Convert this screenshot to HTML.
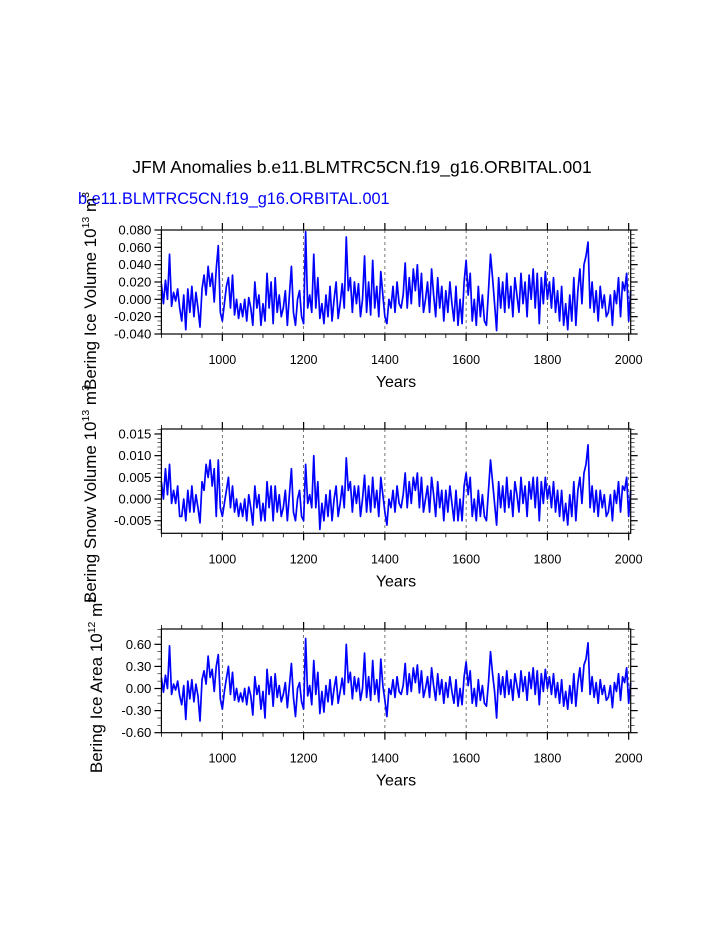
<!DOCTYPE html>
<html><head><meta charset="utf-8"><style>
html,body{margin:0;padding:0;background:#fff;}
svg{display:block;font-family:"Liberation Sans",sans-serif;}
</style></head><body>
<svg id="chart" width="723" height="935" viewBox="0 0 723 935" xmlns="http://www.w3.org/2000/svg">
<text x="362" y="173" font-size="17.5" text-anchor="middle" fill="#000">JFM Anomalies b.e11.BLMTRC5CN.f19_g16.ORBITAL.001</text>
<text x="78" y="204" font-size="16.3" fill="#0000ff">b.e11.BLMTRC5CN.f19_g16.ORBITAL.001</text>
<g id="panels"></g>
</svg>
<script>
const years = [];
for (let y = 850; y <= 2005; y += 5) years.push(y);
const xTicks = [1000, 1200, 1400, 1600, 1800, 2000];
const iceVolume = [18,-5,22,0,52,-8,8,-2,12,-10, -25,5,-35,12,-15,15,-20,8,-10,-32, 12,28,5,38,15,30,-3,35,62,-15, -25,-5,15,25,-10,28,-18,0,-22,-5, -20,0,-25,2,-10,-30,20,-10,5,-30, -5,-25,30,-10,20,-28,25,-15,5,-20, -10,10,-30,5,38,-15,-30,0,10,-20, -28,78,-10,5,-15,52,-10,25,-22,-5, -28,5,-20,15,-25,0,20,-22,-5,18, -10,72,10,25,-15,20,-5,18,-20,0, 50,-15,20,-18,45,-10,15,-20,32,5, -20,-28,0,-10,15,-15,20,-5,-10,5, 42,-10,25,-5,35,10,40,-8,30,-15, 0,20,-15,35,5,-20,25,-10,15,-25, 10,-15,20,-5,-25,15,-30,0,-28,20, 45,5,30,-25,0,-30,15,-20,5,-25, -30,10,52,25,-5,-36,25,-10,20,-15, 30,-10,15,-20,25,5,-15,30,-5,20, -20,28,0,35,-10,30,-28,25,-5,32, 0,20,-10,25,-15,10,-25,15,-30,-5, -35,5,-25,25,-30,10,35,-5,40,50, 66,-10,20,-15,10,-25,15,-10,5,-20, -15,5,-30,10,-5,25,-20,20,10,30, -25,10].map(v => v / 1000);
const snowVolume = [4,0,7,1,8,-1,2,-1,3,-4, -4,0,-5,2,-3,3,-3,1,-2,-5.5, 4,2,8,5,9,3,7,-4,9,-2, -4,-1,2,5,-2,3,-3,0,-4,-1, -4,0,-5,1,-2,-6,3,-2,1,-5, -1,-5,4,-2,3,-5,3,-3,1,-4, -2,2,-5,1,7,-3,-5,0,2,-4, -5,8,-1,1,-2,10,-2,4,-7,-1, -5,1,-4,2,-5,0,3,-4,-1,3, -2,9.5,2,4,-3,3,-1,3,-4,0, 5.5,-3,3,-3,5,-2,2,-4,5,1, -3,-6,0,-2,2,-3,3,-1,-2,1, 6,-2,4,-1,5,2,6,-2,5,-3, 0,3,-3,5,1,-4,4,-2,2,-5, 2,-3,3,-1,-5,2,-5,0,-5,3, 6,1,5,-4,0,-5,2,-4,1,-4, -5,2,9,4,-1,-6,4,-2,3,-3, 5,-2,2,-4,4,1,-3,5,-1,3, -4,4,0,5,-2,5,-5,4,-1,5, 0,3,-2,4,-3,2,-4,2,-5,-1, -6,1,-4,4,-5,2,5,-1,6,8, 12.5,-2,3,-3,2,-4,2,-2,1,-4, -3,1,-5,2,-1,4,-3,3,2,5, -4,2].map(v => v / 1000);
const iceArea = [15,-5,18,0,58,-8,6,-2,10,-10, -22,4,-42,10,-14,12,-18,6,-10,-44, 12,24,6,44,15,26,-4,30,46,-14, -28,-4,14,30,-8,22,-16,0,-18,-6, -18,0,-22,2,-10,-36,16,-8,4,-28, -4,-40,26,-8,16,-24,20,-12,4,-18, -8,8,-26,4,34,-12,-38,0,8,-18, -28,68,-10,4,-22,38,-8,22,-34,-4, -32,4,-18,12,-22,0,16,-20,-4,14, -8,60,8,22,-14,16,-4,14,-16,0, 48,-12,16,-16,38,-8,12,-18,40,4, -16,-38,0,-8,12,-12,16,-4,-8,4, 34,-8,20,-4,28,8,32,-6,24,-12, 0,16,-12,28,4,-16,20,-8,12,-20, 8,-12,16,-4,-20,12,-24,0,-22,16, 36,4,24,-20,0,-24,12,-16,4,-20, -24,8,50,20,-4,-40,20,-8,16,-12, 24,-8,12,-16,20,4,-12,24,-4,16, -16,22,0,28,-8,24,-22,20,-4,26, 0,16,-8,20,-12,8,-20,12,-24,-4, -28,4,-20,20,-24,8,28,-4,32,40, 62,-8,16,-12,8,-20,12,-8,4,-16, -12,4,-26,8,-4,20,-16,16,8,28, -20,8].map(v => v / 100);
const yTicks1 = [-0.04, -0.02, 0, 0.02, 0.04, 0.06, 0.08];
const yTickLabels1 = ["-0.040","-0.020","0.000","0.020","0.040","0.060","0.080"];
const yTicks2 = [-0.005, 0, 0.005, 0.01, 0.015];
const yTickLabels2 = ["-0.005","0.000","0.005","0.010","0.015"];
const yTicks3 = [-0.6, -0.3, 0, 0.3, 0.6];
const yTickLabels3 = ["-0.60","-0.30","0.00","0.30","0.60"];

const NS = "http://www.w3.org/2000/svg";
const root = document.getElementById('panels');
const L = 161.4, R = 630.7, X0 = 850, X1 = 2005;
const xs = v => L + (v - X0) / (X1 - X0) * (R - L);
function mk(tag, attrs, parent) {
  const e = document.createElementNS(NS, tag);
  for (const k in attrs) e.setAttribute(k, attrs[k]);
  parent.appendChild(e);
  return e;
}
const panels = [
  {name:'ice-volume', top:230, bot:334, ymin:-0.04, ymax:0.08, data:iceVolume, ticks:yTicks1, labels:yTickLabels1, minor:0.005, title:['Bering Ice Volume 10','13',' m','3'], tx:96, ty:291},
  {name:'snow-volume', top:429, bot:533.3, ymin:-0.0079, ymax:0.01615, data:snowVolume, ticks:yTicks2, labels:yTickLabels2, minor:0.001, title:['Bering Snow Volume 10','13',' m','3'], tx:96, ty:494},
  {name:'ice-area', top:629, bot:732.7, ymin:-0.6, ymax:0.808, data:iceArea, ticks:yTicks3, labels:yTickLabels3, minor:0.1, title:['Bering Ice Area 10','12',' m','2'], tx:102, ty:685}
];
panels.forEach(p => {
  const g = mk('g', {}, root);
  
  
  const ys = v => p.bot - (v - p.ymin) / (p.ymax - p.ymin) * (p.bot - p.top);
  xTicks.forEach(t => {
    const l = mk('line', {x1:xs(t), x2:xs(t), y1:p.top, y2:p.bot, stroke:'#555', 'stroke-width':0.8, 'stroke-dasharray':'3,3'}, g);
    
    
  });
  const pts = p.data.map((v, i) => xs(years[i]).toFixed(2) + ',' + ys(v).toFixed(2)).join(' ');
  const pl = mk('polyline', {points:pts, fill:'none', stroke:'#0000ff', 'stroke-width':1.7, 'stroke-linejoin':'round'}, g);
  
  
  const fr = mk('rect', {x:L, y:p.top, width:R - L, height:p.bot - p.top, fill:'none', stroke:'#000', 'stroke-width':1.2}, g);
  
  
  for (let t = 850; t <= 2005; t += 50) {
    const major = xTicks.includes(t);
    const len = major ? 7 : 4;
    mk('line', {x1:xs(t), x2:xs(t), y1:p.top, y2:p.top - len, stroke:'#000', 'stroke-width':major ? 1.2 : 0.8}, g);
    mk('line', {x1:xs(t), x2:xs(t), y1:p.bot, y2:p.bot + len, stroke:'#000', 'stroke-width':major ? 1.2 : 0.8}, g);
  }
  xTicks.forEach(t => {
    const tx = mk('text', {x:xs(t), y:p.bot + 30, 'font-size':12.5, 'text-anchor':'middle'}, g);
    
    
    tx.textContent = t;
  });
  const yl = mk('text', {x:396, y:p.bot + 53, 'font-size':16, 'text-anchor':'middle'}, g);
  
  
  yl.textContent = 'Years';
  for (let v = p.ymin; v <= p.ymax + 1e-9; v += p.minor) {
    const vv = Math.round(v / p.minor) * p.minor;
    if (vv < p.ymin || vv > p.ymax) continue;
    mk('line', {x1:L, x2:L - 4, y1:ys(vv), y2:ys(vv), stroke:'#000', 'stroke-width':0.6}, g);
    mk('line', {x1:R, x2:R + 4, y1:ys(vv), y2:ys(vv), stroke:'#000', 'stroke-width':0.6}, g);
  }
  p.ticks.forEach((t, i) => {
    mk('line', {x1:L, x2:L - 7, y1:ys(t), y2:ys(t), stroke:'#000', 'stroke-width':1.2}, g);
    mk('line', {x1:R, x2:R + 7, y1:ys(t), y2:ys(t), stroke:'#000', 'stroke-width':1.2}, g);
    const tx = mk('text', {x:L - 10, y:ys(t) + 4.5, 'font-size':13.2, 'text-anchor':'end'}, g);
    
    
    tx.textContent = p.labels[i];
  });
  const tt = mk('text', {x:0, y:0, 'font-size':17, 'text-anchor':'middle', transform:'translate(' + p.tx + ',' + p.ty + ') rotate(-90)'}, g);
  
  
  const s1 = mk('tspan', {}, tt); s1.textContent = p.title[0];
  const s2 = mk('tspan', {dy:-7, 'font-size':10.5}, tt); s2.textContent = p.title[1];
  const s3 = mk('tspan', {dy:7}, tt); s3.textContent = p.title[2];
  const s4 = mk('tspan', {dy:-7, 'font-size':10.5}, tt); s4.textContent = p.title[3];
});
</script>
</body></html>
